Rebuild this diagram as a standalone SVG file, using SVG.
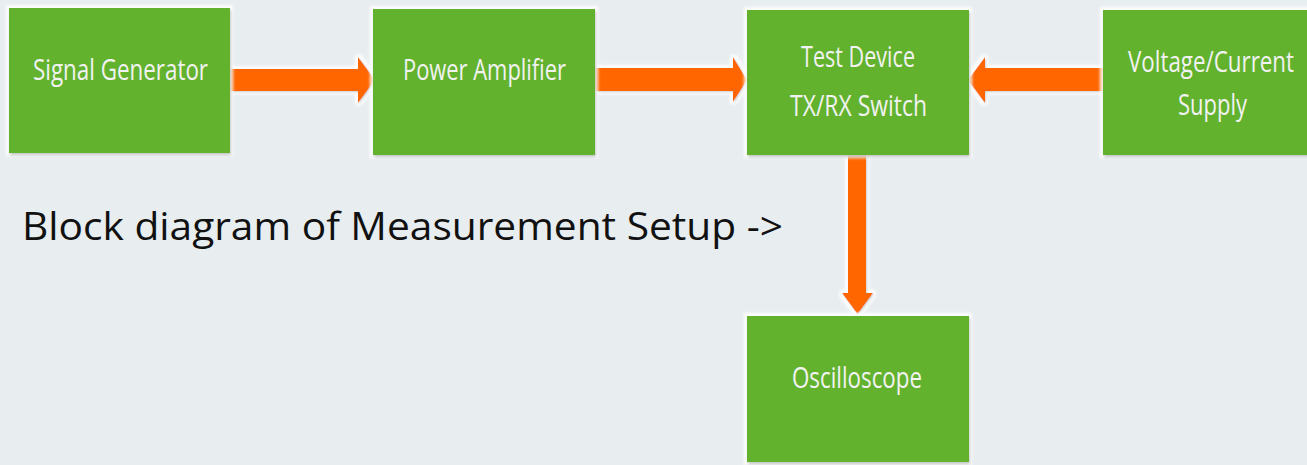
<svg xmlns="http://www.w3.org/2000/svg" width="1307" height="465" viewBox="0 0 1307 465">
<defs>
<filter id="box" x="-10%" y="-10%" width="120%" height="125%">
<feMorphology in="SourceAlpha" operator="dilate" radius="3" result="d"/>
<feGaussianBlur in="d" stdDeviation="1.5" result="db"/>
<feFlood flood-color="#ffffff" flood-opacity="0.9"/>
<feComposite in2="db" operator="in" result="glow"/>
<feOffset in="SourceAlpha" dx="1" dy="2" result="o"/>
<feGaussianBlur in="o" stdDeviation="1.5" result="ob"/>
<feFlood flood-color="#000" flood-opacity="0.45"/>
<feComposite in2="ob" operator="in" result="sh"/>
<feMerge><feMergeNode in="glow"/><feMergeNode in="sh"/><feMergeNode in="SourceGraphic"/></feMerge>
</filter>
<filter id="arr" x="-10%" y="-20%" width="120%" height="140%">
<feMorphology in="SourceAlpha" operator="dilate" radius="3" result="d"/>
<feGaussianBlur in="d" stdDeviation="1.5" result="db"/>
<feFlood flood-color="#ffffff" flood-opacity="0.9"/>
<feComposite in2="db" operator="in" result="glow"/>
<feOffset in="SourceAlpha" dx="1" dy="1" result="o"/>
<feGaussianBlur in="o" stdDeviation="1" result="ob"/>
<feFlood flood-color="#000" flood-opacity="0.4"/>
<feComposite in2="ob" operator="in" result="sh"/>
<feMerge><feMergeNode in="glow"/><feMergeNode in="sh"/><feMergeNode in="SourceGraphic"/></feMerge>
</filter>
</defs>
<style>
.bx{fill:#62B22F;filter:url(#box);}
.lb{font-family:"Open Sans","Noto Sans",sans-serif;font-size:30px;fill:#F2F2F2;}
.ar{fill:#FF6600;filter:url(#arr);}
.tt{font-family:"Open Sans","Noto Sans",sans-serif;font-size:39px;fill:#111111;}
</style>
<rect width="1307" height="465" fill="#E8EDF0"/>
<g id="connectors">
<polygon class="ar" points="230,69 358,69 358,57 375,80 358,103 358,91 230,91"/>
<polygon class="ar" points="595,68 733,68 733,57 747,80 733,102 733,91 595,91"/>
<polygon class="ar" points="1103,68 985,68 985,57 968,80 985,103 985,91 1103,91"/>
<polygon class="ar" points="848,155 866,155 866,293 873,293 857.5,314 842,293 848,293"/>
</g>
<g id="signal-generator">
<rect class="bx" x="9" y="8" width="221" height="145"/>
<text class="lb" x="33" y="80" textLength="175" lengthAdjust="spacingAndGlyphs">Signal Generator</text>
</g>
<g id="power-amplifier">
<rect class="bx" x="373" y="9" width="222" height="146"/>
<text class="lb" x="403" y="80" textLength="163" lengthAdjust="spacingAndGlyphs">Power Amplifier</text>
</g>
<g id="test-device">
<rect class="bx" x="747" y="10" width="222" height="145"/>
<text class="lb" x="801" y="67" textLength="114" lengthAdjust="spacingAndGlyphs">Test Device</text>
<text class="lb" x="790" y="116" textLength="137" lengthAdjust="spacingAndGlyphs">TX/RX Switch</text>
</g>
<g id="supply">
<rect class="bx" x="1103" y="10" width="215" height="145"/>
<text class="lb" x="1128" y="72" textLength="166" lengthAdjust="spacingAndGlyphs">Voltage/Current</text>
<text class="lb" x="1178" y="115" textLength="69" lengthAdjust="spacingAndGlyphs">Supply</text>
</g>
<g id="oscilloscope">
<rect class="bx" x="747" y="316" width="222" height="146"/>
<text class="lb" x="792" y="388" textLength="130" lengthAdjust="spacingAndGlyphs">Oscilloscope</text>
</g>
<text class="tt" x="22" y="240" textLength="761" lengthAdjust="spacingAndGlyphs">Block diagram of Measurement Setup -&gt;</text>
</svg>
